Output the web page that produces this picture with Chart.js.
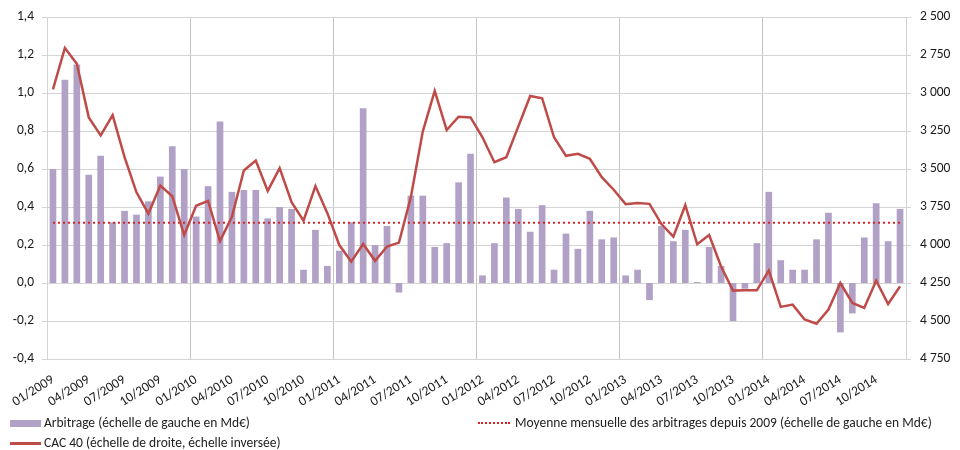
<!DOCTYPE html>
<html lang="fr">
<head>
<meta charset="utf-8">
<title>Arbitrage et CAC 40</title>
<script src="https://cdn.jsdelivr.net/npm/chart.js@4/dist/chart.umd.min.js"></script>
<style>
  body { margin: 0; background: #fff; }
  #wrap { position: relative; width: 960px; height: 450px; font-family: Carlito, "Liberation Sans", Arial, sans-serif; }
  canvas { position: absolute; left: 0; top: 0; }
  .leg { position: absolute; font-size: 13.5px; color: #222; white-space: nowrap; line-height: 16px; }
  .sw { position: absolute; }
</style>
</head>
<body>
<div id="wrap">
  <canvas id="graf" width="960" height="450"></canvas>
  <div class="sw" style="left:10px;top:420px;width:31px;height:7px;background:#B2A1C7"></div>
  <div class="leg" style="left:44px;top:415px">Arbitrage (échelle de gauche en Md€)</div>
  <div class="sw" style="left:478px;top:422px;width:32px;height:0;border-top:2px dotted #D62222"></div>
  <div class="leg" style="left:515px;top:415px">Moyenne mensuelle des arbitrages depuis 2009 (échelle de gauche en Md€)</div>
  <div class="sw" style="left:10px;top:442px;width:31px;height:0;border-top:3px solid #BE4B48"></div>
  <div class="leg" style="left:44px;top:435px">CAC 40 (échelle de droite, échelle inversée)</div>
</div>
<script>
// mois 01/2009 .. 12/2014
let mois = [];
for (let a = 2009; a <= 2014; a++) {
  for (let m = 1; m <= 12; m++) {
    mois.push((m < 10 ? "0" + m : "" + m) + "/" + a);
  }
}

// arbitrages mensuels (Md€)
let arbitrage = [
  0.60, 1.07, 1.15, 0.57, 0.67, 0.32, 0.38, 0.36, 0.43, 0.56, 0.72, 0.60,
  0.35, 0.51, 0.85, 0.48, 0.49, 0.49, 0.34, 0.40, 0.39, 0.07, 0.28, 0.09,
  0.17, 0.32, 0.92, 0.20, 0.30, -0.05, 0.46, 0.46, 0.19, 0.21, 0.53, 0.68,
  0.04, 0.21, 0.45, 0.39, 0.27, 0.41, 0.07, 0.26, 0.18, 0.38, 0.23, 0.24,
  0.04, 0.07, -0.09, 0.30, 0.22, 0.28, 0.005, 0.19, 0.09, -0.20, -0.03, 0.21,
  0.48, 0.12, 0.07, 0.07, 0.23, 0.37, -0.26, -0.16, 0.24, 0.42, 0.22, 0.39
];

// CAC 40 (points)
let cac40 = [
  2975, 2703, 2807, 3160, 3278, 3145, 3422, 3653, 3793, 3609, 3679, 3934,
  3742, 3710, 3974, 3814, 3509, 3444, 3644, 3494, 3718, 3840, 3612, 3790,
  4000, 4109, 3993, 4104, 4010, 3984, 3684, 3252, 2986, 3243, 3156, 3160,
  3291, 3455, 3422, 3221, 3019, 3034, 3291, 3413, 3400, 3433, 3553, 3636,
  3731, 3723, 3729, 3862, 3945, 3738, 3995, 3934, 4141, 4300, 4298, 4298,
  4167, 4407, 4392, 4490, 4518, 4425, 4250, 4381, 4414, 4235, 4388, 4272
];

// moyenne mensuelle depuis 2009
let moyenne = 0.317;
let ligneMoyenne = mois.map(() => moyenne);

let police = { family: 'Carlito, "Liberation Sans", Arial, sans-serif', size: 13.5 };
let couleurTexte = "#1a1a1a";
let grille = "#D4D4D4";

function formatGauche(v) {
  if (Math.abs(v) < 1e-9) v = 0;
  return v.toFixed(1).replace(".", ",");
}

new Chart(document.getElementById("graf").getContext("2d"), {
  data: {
    labels: mois,
    datasets: [
      { type: "line", label: "CAC 40 (échelle de droite, échelle inversée)", data: cac40, yAxisID: "yd",
        borderColor: "#BE4B48", borderWidth: 2.5, pointRadius: 0, tension: 0, order: 0 },
      { type: "line", label: "Moyenne mensuelle des arbitrages depuis 2009 (échelle de gauche en Md€)", data: ligneMoyenne, yAxisID: "yg",
        borderColor: "#D62222", borderWidth: 2, borderDash: [2, 3], pointRadius: 0, order: 1 },
      { type: "bar", label: "Arbitrage (échelle de gauche en Md€)", data: arbitrage, yAxisID: "yg",
        backgroundColor: "#B2A1C7", categoryPercentage: 1, barPercentage: 0.56, order: 2 }
    ]
  },
  options: {
    responsive: false,
    animation: false,
    layout: { padding: { top: 16, left: 0, right: 0, bottom: 0 } },
    plugins: { legend: { display: false }, tooltip: { enabled: false } },
    scales: {
      x: {
        offset: true,
        grid: { offset: true, drawTicks: false, color: c => (c.index % 12 === 0 ? "#C4C4C4" : "transparent") },
        border: { color: grille },
        ticks: {
          autoSkip: false, minRotation: 32, maxRotation: 32, padding: 13,
          color: couleurTexte, font: police,
          callback: function (v, i) { return i % 3 === 0 ? mois[i] : ""; }
        },
        afterFit: s => { s.height = 91; }
      },
      yg: {
        position: "left", min: -0.4, max: 1.4,
        grid: { color: grille, tickLength: 5 },
        border: { color: grille },
        ticks: { stepSize: 0.2, padding: 8, color: couleurTexte, font: police, callback: formatGauche },
        afterFit: s => { s.width = 47; }
      },
      yd: {
        position: "right", reverse: true, min: 2500, max: 4750,
        grid: { drawOnChartArea: false, color: grille, tickLength: 5 },
        border: { color: grille },
        ticks: { stepSize: 250, padding: 9, color: couleurTexte, font: police,
          callback: v => String(v).replace(/\B(?=(\d{3})+(?!\d))/g, " ") },
        afterFit: s => { s.width = 54; }
      }
    }
  }
});
</script>
</body>
</html>
